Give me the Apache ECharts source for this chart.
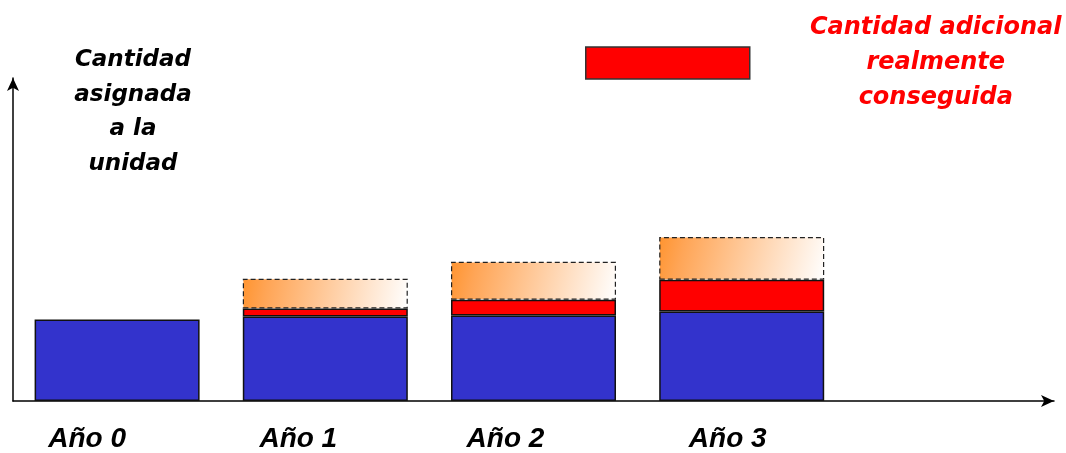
<!DOCTYPE html>
<html>
<head>
<meta charset="utf-8">
<script src="https://cdn.jsdelivr.net/npm/echarts@6/dist/echarts.min.js"></script>
<style>html,body{margin:0;padding:0;background:#fff}#c{width:1066px;height:453px}</style>
</head>
<body>
<div id="c"></div>
<script>
// Data (arbitrary units)
var categories = ['Año 0', 'Año 1', 'Año 2', 'Año 3', ''];
var asignada = [82, 85, 86, 90, null];
var adicional = [null, 8, 16, 32, null];
var objetivo = [null, 123, 140, 165, null]; // total height of dashed target box

var restante = objetivo.map(function (t, i) {
  if (t == null) return null;
  return t - (asignada[i] || 0) - (adicional[i] || 0);
});

var labelShift = [30, 27, 28, 14];
var rich = {};
labelShift.forEach(function (d, i) {
  rich['l' + i] = {
    fontFamily: 'Liberation Sans, Arial, sans-serif',
    fontWeight: 'bold', fontStyle: 'italic', fontSize: 28, lineHeight: 28,
    color: '#000', padding: [0, 2 * d, 0, 0]
  };
});

var chart = echarts.init(document.getElementById('c'), null, { renderer: 'canvas' });
chart.setOption({
  animation: false,
  backgroundColor: '#fff',
  grid: { left: 13, right: 12, top: 78, bottom: 50 },
  legend: {
    data: ['Cantidad adicional realmente conseguida'],
    left: 585, top: 16, padding: 0,
    icon: 'rect', itemWidth: 164, itemHeight: 32,
    itemStyle: { color: '#FF0000', borderColor: '#333', borderWidth: 1.5 },
    formatter: function () {
      return '{t|Cantidad adicional}\n{t|realmente}\n{t|conseguida}';
    },
    textStyle: {
      padding: [0, 0, 0, 52],
      rich: {
        t: {
          width: 258, align: 'center', lineHeight: 35,
          fontFamily: 'DejaVu Sans, sans-serif', fontWeight: 'bold', fontStyle: 'italic',
          fontSize: 24, color: '#FF0000'
        }
      }
    }
  },
  graphic: [{
    type: 'text', x: 133, y: 43,
    style: {
      text: 'Cantidad\nasignada\na la\nunidad',
      align: 'center', verticalAlign: 'top',
      fontFamily: 'DejaVu Sans, sans-serif', fontWeight: 'bold', fontStyle: 'italic',
      fontSize: 23, lineHeight: 34.5, fill: '#000'
    }
  }],
  xAxis: {
    type: 'category', data: categories,
    axisLine: { show: true, symbol: ['none', 'arrow'], symbolSize: [9, 13], lineStyle: { color: '#000', width: 1.5 } },
    axisTick: { show: false },
    axisLabel: {
      margin: 24, interval: 0,
      formatter: function (v, i) { return v ? '{l' + i + '|' + v + '}' : ''; },
      rich: rich
    }
  },
  yAxis: {
    type: 'value', min: 0, max: 325,
    axisLine: { show: true, symbol: ['none', 'arrow'], symbolSize: [9, 13], lineStyle: { color: '#000', width: 1.5 } },
    axisTick: { show: false }, axisLabel: { show: false }, splitLine: { show: false }
  },
  series: [
    {
      name: 'Cantidad asignada', type: 'bar', stack: 'a', barWidth: 165, data: asignada,
      itemStyle: { color: '#3333CC', borderColor: '#111', borderWidth: 1.5 }
    },
    {
      name: 'Cantidad adicional realmente conseguida', type: 'bar', stack: 'a', barWidth: 165, data: adicional,
      itemStyle: { color: '#FF0000', borderColor: '#111', borderWidth: 1.5 }
    },
    {
      name: 'Objetivo', type: 'bar', stack: 'a', barWidth: 165, data: restante,
      itemStyle: {
        color: new echarts.graphic.LinearGradient(0, 0, 1, 1, [
          { offset: 0, color: '#FF9430' }, { offset: 0.15, color: '#FFA556' }, { offset: 1, color: '#FFFFFF' }
        ]),
        borderColor: '#222', borderWidth: 1.2, borderType: [5, 3]
      }
    }
  ]
});
</script>
</body>
</html>
